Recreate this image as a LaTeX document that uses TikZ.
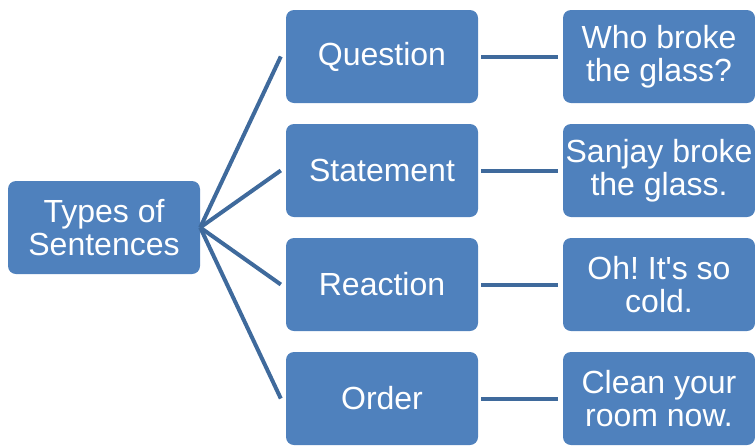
\documentclass[tikz,border=0pt]{standalone}
\usepackage{fontspec}
\setmainfont{Liberation Sans}[Ligatures=TeXOff]
\definecolor{boxblue}{HTML}{4F81BD}
\definecolor{linkblue}{HTML}{3F6A9C}
\frenchspacing
\begin{document}
\begin{tikzpicture}[x=1pt,y=-1pt,
  card/.style={fill=boxblue, rounded corners=8pt, minimum width=192pt,
    minimum height=93pt, inner sep=0pt, text=white, align=center,
    font=\fontsize{32pt}{33pt}\selectfont},
  link/.style={draw=linkblue, line width=4pt}]
\useasboundingbox (0,0) rectangle (755,445);
\clip (0,0) rectangle (755,445);
% root
\node[card] (L) at (104,227.5) {Types of\\Sentences};
% sentence kinds
\node[card] (Q) at (382,56.5) {Question};
\node[card] (S) at (382,170.5) {Statement};
\node[card] (R) at (382,284.5) {Reaction};
\node[card] (O) at (382,398.5) {Order};
% examples
\node[card] (Qx) at (659,56.5) {Who broke\\the glass?};
\node[card] (Sx) at (659,170.5) {Sanjay broke\\the glass.};
\node[card] (Rx) at (659,284.5) {Oh! It's so\\cold.};
\node[card] (Ox) at (659,398.5) {Clean your\\room now.};
% fan-out from the root
\foreach \k in {Q,S,R,O}
  \draw[link] (L.east) -- ([xshift=-5pt]\k.west);
% kind to example
\foreach \k in {Q,S,R,O}
  \draw[link] ([xshift=3pt]\k.east) -- ([xshift=-5pt]\k x.west);
\end{tikzpicture}
\end{document}
